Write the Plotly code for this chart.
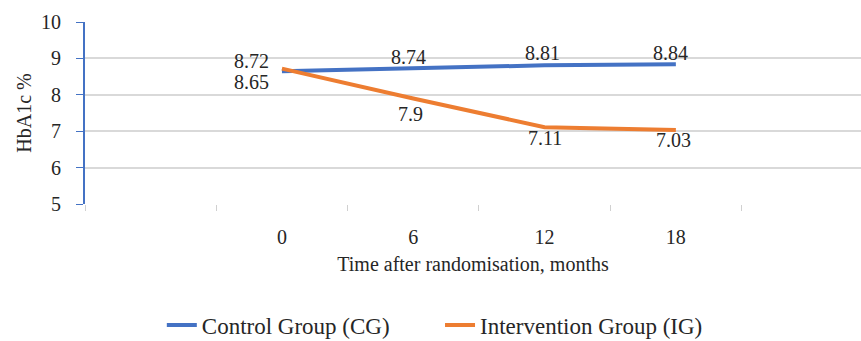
import plotly.graph_objects as go

categories = ["0", "6", "12", "18"]
cg_values = [8.65, 8.74, 8.81, 8.84]
ig_values = [8.72, 7.9, 7.11, 7.03]
y_ticks = [5, 6, 7, 8, 9, 10]

# category slots: one empty slot before, data in slots 1..4
x_pos = [i + 1 for i in range(len(categories))]

BLUE = "#4472C4"
ORANGE = "#ED7D31"
FONT = "Liberation Serif"
TXT = "#262626"

fig = go.Figure()
fig.add_trace(go.Scatter(x=x_pos, y=cg_values, mode="lines", name="Control Group (CG)",
                         line=dict(color=BLUE, width=4), legend="legend"))
fig.add_trace(go.Scatter(x=x_pos, y=ig_values, mode="lines", name="Intervention Group (IG)",
                         line=dict(color=ORANGE, width=4), legend="legend2"))

cg_shift = [(-30, -11), (-5, 11), (-2, 12), (-5, 11)]
ig_shift = [(-30, 8), (-3, -16), (0, -11), (-2, -10)]
for xv, yv, (dx, dy) in zip(x_pos, cg_values, cg_shift):
    fig.add_annotation(x=xv, y=yv, text=str(yv), showarrow=False, xshift=dx, yshift=dy,
                       font=dict(family=FONT, size=20, color=TXT))
for xv, yv, (dx, dy) in zip(x_pos, ig_values, ig_shift):
    fig.add_annotation(x=xv, y=yv, text=str(yv), showarrow=False, xshift=dx, yshift=dy,
                       font=dict(family=FONT, size=20, color=TXT))

fig.update_layout(
    width=861, height=341,
    margin=dict(l=85, r=0, t=22, b=137, autoexpand=False),
    paper_bgcolor="white", plot_bgcolor="white",
    showlegend=True,
    font=dict(family=FONT, size=20, color=TXT),
    xaxis=dict(
        range=[-0.5, 5.41], tickmode="array", tickvals=x_pos, ticktext=categories,
        ticks="", ticklabelstandoff=19, automargin=False,
        tickfont=dict(family=FONT, size=20, color=TXT),
        showgrid=False, zeroline=False, showline=False,
        minor=dict(tick0=0.5, dtick=1, ticks="outside", ticklen=6, tickcolor="#d0d0d0", showgrid=False),
        title=dict(text="Time after randomisation, months", font=dict(family=FONT, size=20, color=TXT), standoff=9),
    ),
    yaxis=dict(
        range=[5, 10], tickvals=y_ticks, ticks="outside", ticklen=7, tickcolor=BLUE,
        ticklabelstandoff=11, automargin=False,
        showline=True, linecolor=BLUE, linewidth=2,
        showgrid=True, gridcolor="#d9d9d9", gridwidth=1.5, zeroline=False,
        tickfont=dict(family=FONT, size=20, color=TXT),
        title=dict(text="HbA1c %", font=dict(family=FONT, size=20, color=TXT), standoff=4),
    ),
    legend=dict(orientation="h", x=0.099, xanchor="left", y=-0.665, yanchor="middle",
                font=dict(family=FONT, size=23, color=TXT), bgcolor="rgba(0,0,0,0)"),
    legend2=dict(orientation="h", x=0.4575, xanchor="left", y=-0.665, yanchor="middle",
                 font=dict(family=FONT, size=23, color=TXT), bgcolor="rgba(0,0,0,0)"),
)

fig.write_html("out.html")
